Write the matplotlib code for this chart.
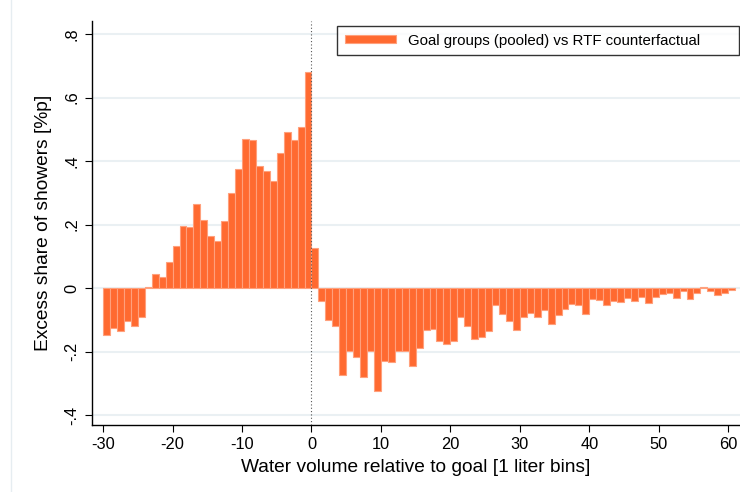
import matplotlib
matplotlib.use("Agg")
import matplotlib.pyplot as plt
from matplotlib.lines import Line2D
import numpy as np

plt.rcParams['font.family'] = ['Liberation Sans', 'DejaVu Sans']

# bin left edges (1 liter bins) and excess share values
bins = list(range(-30, 61))
values = [
    -0.149, -0.127, -0.136, -0.105, -0.118, -0.092,            # -30..-25
    0.005, 0.046, 0.034, 0.081, 0.132, 0.194, 0.191, 0.264,   # -24..-17
    0.213, 0.163, 0.148, 0.210, 0.301, 0.374, 0.469, 0.465,   # -16..-9
    0.384, 0.370, 0.336, 0.425, 0.490, 0.466, 0.506, 0.679,   # -8..-1
    0.125, -0.042, -0.099, -0.118, -0.272, -0.199, -0.217,    # 0..6
    -0.280, -0.199, -0.325, -0.228, -0.234, -0.197, -0.197,   # 7..13
    -0.244, -0.190, -0.133, -0.128, -0.168, -0.177, -0.165,   # 14..20
    -0.092, -0.120, -0.159, -0.155, -0.135, -0.054, -0.083,   # 21..27
    -0.103, -0.133, -0.092, -0.078, -0.092, -0.068, -0.114,   # 28..34
    -0.085, -0.067, -0.050, -0.054, -0.082, -0.035, -0.039,   # 35..41
    -0.054, -0.040, -0.045, -0.031, -0.042, -0.029, -0.048,   # 42..48
    -0.027, -0.019, -0.014, -0.032, -0.009, -0.033, -0.016,   # 49..55
    0.003, -0.009, -0.023, -0.016, -0.005,                    # 56..60
]
xticks = [-30, -20, -10, 0, 10, 20, 30, 40, 50, 60]
yticks = [-0.4, -0.2, 0.0, 0.2, 0.4, 0.6, 0.8]
ytick_labels = ['-.4', '-.2', '0', '.2', '.4', '.6', '.8']
legend_label = 'Goal groups (pooled) vs RTF counterfactual'

W, H = 740, 492
fig = plt.figure(figsize=(W / 100, H / 100), dpi=100)
ax = fig.add_axes([92 / W, 1 - 425 / H, (740 - 92) / W, (425 - 21) / H])

ax.bar(bins, values, width=1.0, align='edge', color='#FF6A30',
       edgecolor='#FFA07C', linewidth=0.8, label=legend_label, zorder=3)

ax.set_xlim(-31.6, 61.7)
ax.set_ylim(-0.431, 0.841)

for y in yticks:
    ax.axhline(y, color='#EAF0F3', linewidth=1.5, zorder=1)
ax.axvline(0, color='#555555', linestyle=(0, (1, 2)), linewidth=0.8, zorder=4)

ax.set_xticks(xticks)
ax.set_xticklabels([str(t) for t in xticks], fontsize=11.8)
ax.set_yticks(yticks)
ax.set_yticklabels(ytick_labels, fontsize=11.8, rotation=90, va='center')
ax.tick_params(axis='both', direction='out', length=5, width=0.8, color='black')
ax.tick_params(axis='y', pad=4)

for s in ['top', 'right']:
    ax.spines[s].set_visible(False)
for s in ['left', 'bottom']:
    ax.spines[s].set_color('black')
    ax.spines[s].set_linewidth(1.0)

ax.set_xlabel('Water volume relative to goal [1 liter bins]', fontsize=13.8, labelpad=5)
ax.set_ylabel('Excess share of showers [%p]', fontsize=13.8, labelpad=9)

leg = ax.legend(loc='upper left',
                bbox_to_anchor=(337 / W, 1 - 55 / H, (739 - 337) / W, 29 / H),
                bbox_transform=fig.transFigure, mode='expand',
                frameon=True, fancybox=False,
                fontsize=10.8, handlelength=3.4, handleheight=0.45,
                borderpad=0.5, handletextpad=0.8, borderaxespad=0)
leg.get_frame().set_edgecolor('black')
leg.get_frame().set_linewidth(1.0)

fig.add_artist(Line2D([11 / W, 11 / W], [0, 1], transform=fig.transFigure,
                      color='#E6EDF1', linewidth=1.0))

fig.savefig('out.png', dpi=100)
